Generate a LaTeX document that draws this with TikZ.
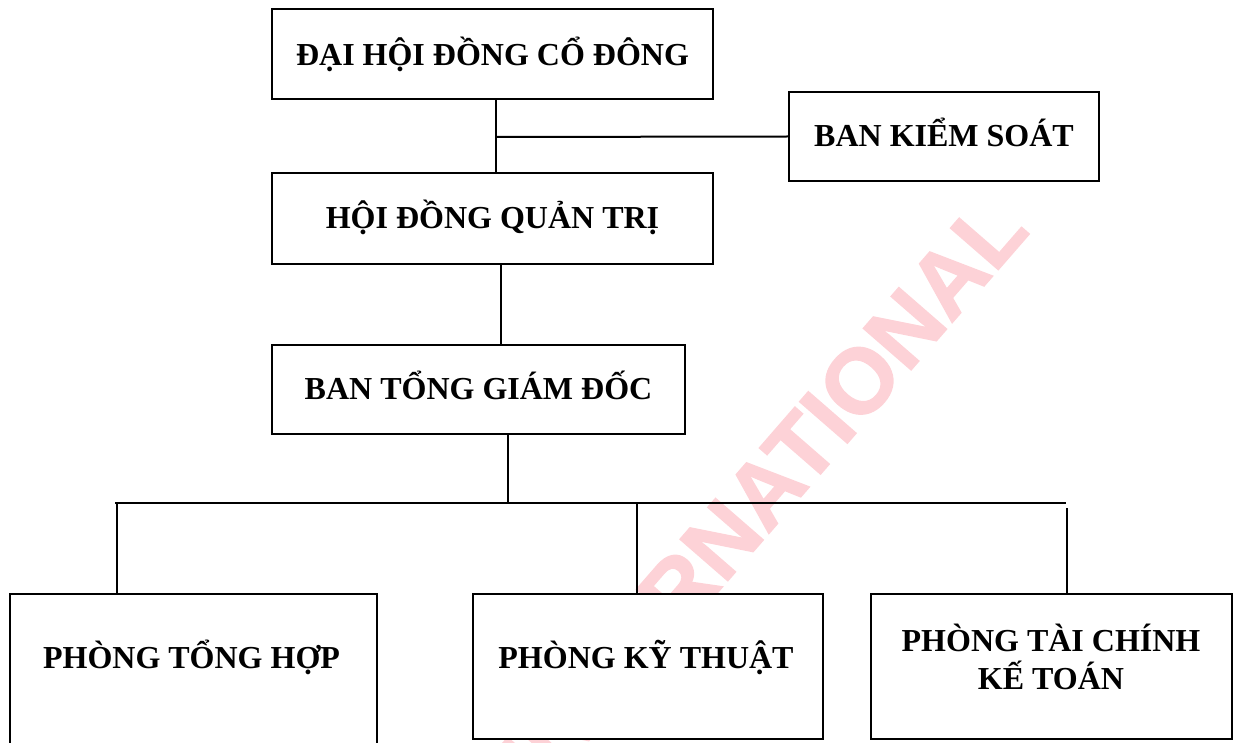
\documentclass[tikz,border=0pt]{standalone}
\usepackage{fontspec}
\setmainfont{Liberation Serif}
\newfontfamily\wmfont[BoldFeatures={FakeBold=1.5}]{Liberation Sans}
\usetikzlibrary{fit}
\definecolor{wmcol}{RGB}{253,210,215}
\begin{document}
\begin{tikzpicture}[x=0.5pt,y=-0.5pt,
  box/.style={draw, line width=1pt, fill=white, inner sep=0pt},
  lbl/.style={font=\fontsize{16}{19}\selectfont\bfseries, inner sep=0pt, anchor=base},
  conn/.style={line width=1pt}]
\useasboundingbox (0,0) rectangle (1237,743);
\clip (0,0) rectangle (1237,743);
% watermark
\node[rotate=49, text=wmcol, font=\wmfont\fontsize{46}{46}\selectfont\bfseries, inner sep=0pt] (wm) at (763,492) {INTERNATIONAL};
% coordinates for connector lines
\coordinate (j1) at (496,137);
\coordinate (j2) at (501,0);
\coordinate (j3) at (508,0);
\coordinate (busL) at (115,503);
\coordinate (busR) at (1066,503);
\coordinate (d1) at (117,503);
\coordinate (d2) at (637,503);
\coordinate (d3) at (1067,508);
% boxes
\node[box, fit={(272,9) (713,99)}] (b1) {};
\node[box, fit={(272,173) (713,264)}] (b2) {};
\node[box, fit={(789,92) (1099,181)}] (b3) {};
\node[box, fit={(272,345) (685,434)}] (b4) {};
\node[box, fit={(10,594) (377,770)}] (b5) {};
\node[box, fit={(473,594) (823,739)}] (b6) {};
\node[box, fit={(871,594) (1232,739)}] (b7) {};
% connectors
\draw[conn] (j1 |- b1.south) -- (j1 |- b2.north);
\draw[conn] (j1) -- (b3.west);
\draw[conn] (j2 |- b2.south) -- (j2 |- b4.north);
\draw[conn] (j3 |- b4.south) -- (j3 |- busL);
\draw[conn] (busL) -- (busR);
\draw[conn] (d1) -- (d1 |- b5.north);
\draw[conn] (d2) -- (d2 |- b6.north);
\draw[conn] (d3) -- (d3 |- b7.north);
% labels
\node[lbl] (t1) at (492.5,66) {ĐẠI HỘI ĐỒNG CỔ ĐÔNG};
\node[lbl] (t2) at (492.5,229) {HỘI ĐỒNG QUẢN TRỊ};
\node[lbl] (t3) at (944,147) {BAN KIỂM SOÁT};
\node[lbl] (t4) at (478.5,400) {BAN TỔNG GIÁM ĐỐC};
\node[lbl] (t5) at (191.5,668) {PHÒNG TỔNG HỢP};
\node[lbl] (t6) at (646,668) {PHÒNG KỸ THUẬT};
\node[lbl] (t7a) at (1051,651) {PHÒNG TÀI CHÍNH};
\node[lbl] (t7b) at (1051,689) {KẾ TOÁN};
\end{tikzpicture}
\end{document}
